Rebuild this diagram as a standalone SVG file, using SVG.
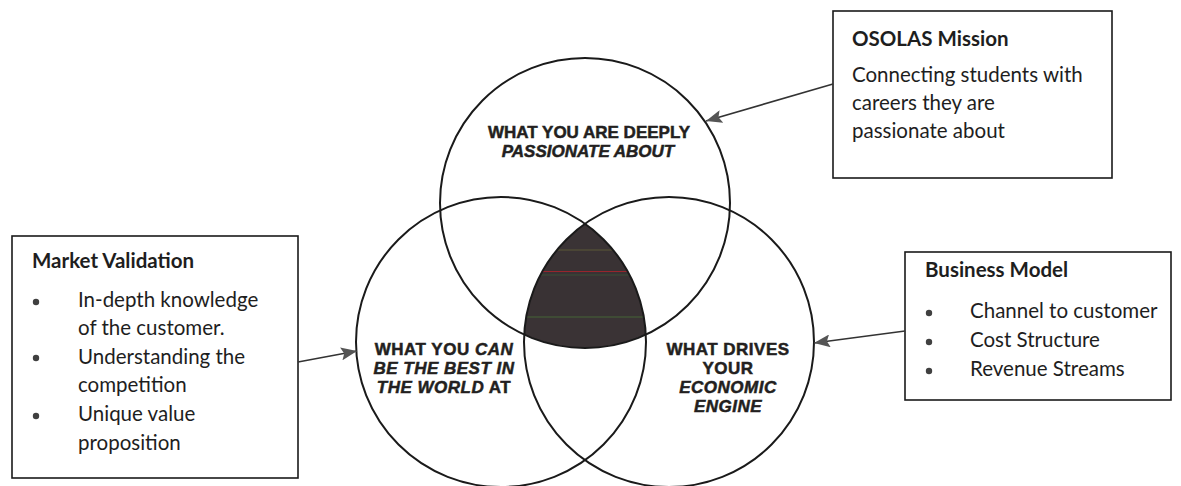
<svg xmlns="http://www.w3.org/2000/svg" width="1181" height="486" viewBox="0 0 1181 486">
<style>
.circ{fill:none;stroke:#1a1a1a;stroke-width:2}
.box{fill:#fff;stroke:#1a1a1a;stroke-width:1.6}
.vt{font-family:"Liberation Sans",Arial,sans-serif;font-weight:bold;font-size:17px;letter-spacing:0.5px;fill:#231f20;stroke:#231f20;stroke-width:0.5;text-anchor:middle}
.sm{letter-spacing:0}
.it{font-style:italic}
.bt{font-family:Lato,"Liberation Sans",sans-serif;font-size:20.5px;fill:#1e1e1e}
.bh{font-weight:bold}
.bul{fill:#404040}
.conn{stroke:#333;stroke-width:1.6;fill:none;marker-end:url(#ah)}
</style>
<defs>
<marker id="ah" markerUnits="userSpaceOnUse" markerWidth="17" markerHeight="13" refX="16" refY="6.5" orient="auto">
<path d="M0,0 L16,6.5 L0,13 L3,6.5 Z" fill="#555"/>
</marker>
<clipPath id="cc"><path d="M585,223.8 A145,145 0 0 0 524.2,334.6 A145,145 0 0 0 645.8,334.6 A145,145 0 0 0 585,223.8 Z"/></clipPath>
</defs>
<rect width="1181" height="486" fill="#fff"/>
<g id="core">
<path d="M585,223.8 A145,145 0 0 0 524.2,334.6 A145,145 0 0 0 645.8,334.6 A145,145 0 0 0 585,223.8 Z" fill="#3a3335"/>
<g clip-path="url(#cc)" stroke-width="1" opacity="0.7">
<line x1="500" y1="250" x2="680" y2="250" stroke="#6a6a3a"/>
<line x1="500" y1="271.5" x2="680" y2="271.5" stroke="#c0202a"/>
<line x1="500" y1="275" x2="680" y2="275" stroke="#3a5a3a"/>
<line x1="500" y1="317" x2="680" y2="317" stroke="#4a7a3a"/>
</g>
</g>
<g id="circle-passion">
<circle class="circ" cx="585" cy="203" r="145"/>
<text class="vt sm" x="589" y="138">WHAT YOU ARE DEEPLY</text>
<text class="vt sm it" x="588" y="157">PASSIONATE ABOUT</text>
</g>
<g id="circle-best">
<circle class="circ" cx="501" cy="342" r="145"/>
<text class="vt" x="444" y="355">WHAT YOU <tspan class="it">CAN</tspan></text>
<text class="vt it" x="444" y="374">BE THE BEST IN</text>
<text class="vt" x="444" y="393"><tspan class="it">THE WORLD</tspan> AT</text>
</g>
<g id="circle-economic">
<circle class="circ" cx="669" cy="342" r="145"/>
<text class="vt" x="728" y="355">WHAT DRIVES</text>
<text class="vt" x="728" y="374">YOUR</text>
<text class="vt it" x="728" y="393">ECONOMIC</text>
<text class="vt it" x="728" y="412">ENGINE</text>
</g>
<g id="box-mission">
<rect class="box" x="833" y="11" width="279" height="167"/>
<text class="bt bh" x="852" y="46">OSOLAS Mission</text>
<text class="bt" x="852" y="82">Connecting students with</text>
<text class="bt" x="852" y="110">careers they are</text>
<text class="bt" x="852" y="138">passionate about</text>
</g>
<g id="box-market">
<rect class="box" x="12" y="236" width="286" height="242"/>
<text class="bt bh" x="32" y="268">Market Validation</text>
<circle class="bul" cx="36" cy="302" r="3.2"/>
<text class="bt" x="78" y="307">In-depth knowledge</text>
<text class="bt" x="78" y="335">of the customer.</text>
<circle class="bul" cx="36" cy="358" r="3.2"/>
<text class="bt" x="78" y="364">Understanding the</text>
<text class="bt" x="78" y="392">competition</text>
<circle class="bul" cx="36" cy="416" r="3.2"/>
<text class="bt" x="78" y="421">Unique value</text>
<text class="bt" x="78" y="450">proposition</text>
</g>
<g id="box-business">
<rect class="box" x="905" y="252" width="266" height="148"/>
<text class="bt bh" x="925" y="277">Business Model</text>
<circle class="bul" cx="929" cy="313" r="3.2"/>
<text class="bt" x="970" y="318">Channel to customer</text>
<circle class="bul" cx="929" cy="342" r="3.2" fill="#555"/>
<text class="bt" x="970" y="347">Cost Structure</text>
<circle class="bul" cx="929" cy="371" r="3.2" fill="#a33"/>
<text class="bt" x="970" y="376">Revenue Streams</text>
</g>
<g id="connectors">
<line class="conn" x1="833" y1="84" x2="706" y2="121"/>
<line class="conn" x1="298" y1="362" x2="357" y2="351"/>
<line class="conn" x1="905" y1="331" x2="814" y2="343"/>
</g>
</svg>
